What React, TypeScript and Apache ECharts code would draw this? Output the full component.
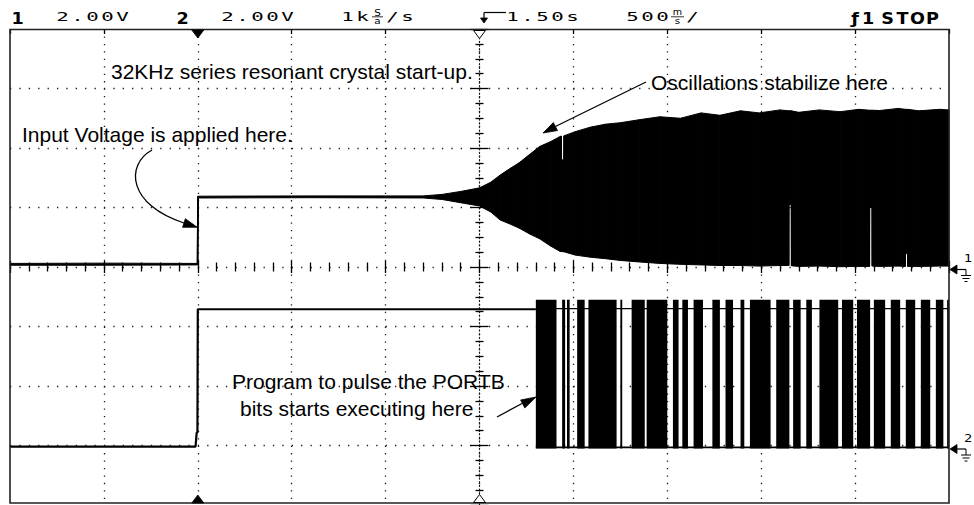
import React, { useEffect, useRef } from "react";
import * as echarts from "echarts";

// Scope settings (500 ms/div, delay 1.50 s, 2.00 V/div both channels)
const secondsPerDiv = 0.5;
const delaySeconds = 1.5;
const voltsPerDiv = 2.0;
const ch1GroundDiv = -0.04;
const ch2GroundDiv = -3.06;

// Channel 1: envelope of the crystal oscillator signal (seconds, volts)
const ch1Time = [-1.0, -0.5, -0.004, 0.0, 0.004, 0.6, 1.2, 1.3, 1.4, 1.5, 1.56, 1.61, 1.66, 1.71, 1.77, 1.82, 1.88, 1.93, 1.936, 1.937, 1.949, 1.95, 2.01, 2.09, 2.17, 2.25, 2.35, 2.46, 2.57, 2.68, 2.78, 2.89, 2.99, 3.1, 3.147, 3.148, 3.16, 3.161, 3.2, 3.31, 3.42, 3.52, 3.577, 3.578, 3.59, 3.591, 3.63, 3.73, 3.767, 3.768, 3.779, 3.78, 3.84, 3.95, 4.0];
const ch1Upper = [0.2, 0.21, 0.2, 2.46, 2.46, 2.47, 2.47, 2.52, 2.62, 2.74, 2.93, 3.17, 3.38, 3.58, 3.88, 4.13, 4.3, 4.47, 4.48, 3.68, 3.68, 4.49, 4.63, 4.78, 4.88, 4.93, 5.03, 5.13, 5.08, 5.26, 5.18, 5.33, 5.26, 5.36, 5.33, 5.33, 5.33, 5.33, 5.28, 5.36, 5.3, 5.38, 5.35, 5.35, 5.35, 5.35, 5.34, 5.41, 5.38, 5.38, 5.38, 5.38, 5.33, 5.38, 5.36];
const ch1Lower = [0.14, 0.14, 0.15, 0.15, 2.4, 2.41, 2.4, 2.35, 2.24, 2.13, 1.93, 1.66, 1.53, 1.39, 1.18, 1.03, 0.78, 0.6, 0.6, 0.6, 0.59, 0.59, 0.48, 0.41, 0.36, 0.3, 0.25, 0.2, 0.17, 0.15, 0.13, 0.13, 0.11, 0.13, 0.13, 2.18, 2.18, 0.12, 0.1, 0.11, 0.09, 0.1, 0.1, 2.08, 2.08, 0.11, 0.1, 0.11, 0.1, 0.53, 0.53, 0.1, 0.1, 0.11, 0.11];

// Channel 2: port pin before the burst (seconds, volts)
const ch2Time = [-1.0, -0.012, -0.006, -0.002, 0.0, 1.8];
const ch2Volts = [0.08, 0.08, 0.55, 0.55, 4.7, 4.7];

// Channel 2: busy (toggling) stretches of the PORTB pulse burst (seconds)
const ch2BurstStart = [1.8, 1.94, 1.966, 2.02, 2.08, 2.25, 2.31, 2.39, 2.53, 2.58, 2.64, 2.74, 2.81, 2.89, 2.94, 3.08, 3.17, 3.24, 3.31, 3.43, 3.51, 3.6, 3.69, 3.77, 3.85, 3.93, 3.99];
const ch2BurstEnd = [1.91, 1.956, 1.98, 2.06, 2.23, 2.26, 2.38, 2.5, 2.56, 2.61, 2.69, 2.78, 2.85, 2.91, 3.05, 3.15, 3.21, 3.27, 3.41, 3.49, 3.58, 3.66, 3.74, 3.82, 3.9, 3.97, 4.0];
const ch2BurstHigh = 5.02;
const ch2BurstLow = 0.02;
const ch2RailTime = [1.8, 4.0];
const ch2RailHigh = 4.72;
const ch2RailLow = 0.06;

// Status line: [text, starting character column, bold]
const statusItems: [string, number, boolean][] = [
  ["1", 0, true],
  ["2.00V", 3, false],
  ["2", 11, true],
  ["2.00V", 14, false],
  ["1k", 22, false],
  ["/s", 25, false],
  ["1.50s", 33, false],
  ["500", 41, false],
  ["/", 45, false],
  ["STOP", 58, true],
];

const tx = (t: number) => (t - delaySeconds) / secondsPerDiv;
const vy = (v: number, g: number) => v / voltsPerDiv + g;

const ANNOT = '21px "Liberation Sans", Arial, Helvetica, sans-serif';
const THIN = '13px "DejaVu Sans Mono"';
const BOLD = 'bold 16px "DejaVu Sans"';
const CELL = 15;
const CELL0 = 10;

function txt(text: string, x: number, y: number, font: string, sx = 1, align = "left") {
  return {
    type: "text",
    x,
    y,
    scaleX: sx,
    z: 100,
    style: {
      text,
      font,
      fill: "#000",
      align,
      verticalAlign: "middle",
      textAlign: align,
      textVerticalAlign: "middle",
    },
  };
}

function cells(text: string, col: number, bold: boolean) {
  return text.split("").map((ch, i) =>
    bold
      ? txt(ch, CELL0 + (col + i) * CELL + CELL / 2, 18.5, BOLD, 1.1, "center")
      : txt(ch, CELL0 + (col + i) * CELL + CELL / 2, 16.8, THIN, 1.6, "center")
  );
}

function ln(x1: number, y1: number, x2: number, y2: number, w = 1.2) {
  return { type: "line", z: 100, shape: { x1, y1, x2, y2 }, style: { stroke: "#000", lineWidth: w } };
}

function poly(points: number[][], fill = "#000", stroke = "#000", w = 0.8) {
  return { type: "polygon", z: 100, shape: { points }, style: { fill, stroke, lineWidth: w } };
}

function arrowHead(tipX: number, tipY: number, dx: number, dy: number, len = 14, half = 4.5) {
  const n = Math.hypot(dx, dy);
  const ux = dx / n, uy = dy / n;
  const bx = tipX - ux * len, by = tipY - uy * len;
  return poly([
    [tipX, tipY],
    [bx - uy * half, by + ux * half],
    [bx + uy * half, by - ux * half],
  ]);
}

function groundMarker(y: number, label: string) {
  return [
    poly([[950, y], [957, y - 4.5], [957, y + 4.5]]),
    ln(956, y, 966, y, 1.2),
    txt(label, 964, y - 11, '11px "DejaVu Sans"', 1.2),
    ln(966, y, 966, y + 6, 1),
    ln(961, y + 6, 971, y + 6, 1),
    ln(962.5, y + 9, 969.5, y + 9, 1),
    ln(964.5, y + 12, 967.5, y + 12, 1),
  ];
}

export default function App() {
  const ref = useRef<HTMLDivElement>(null);

  useEffect(() => {
    if (!ref.current) return;
    const chart = echarts.init(ref.current, undefined, { renderer: "svg" });

    const bandData = [];
    for (let i = 0; i < ch1Time.length - 1; i++) {
      bandData.push([
        tx(ch1Time[i]), vy(ch1Lower[i], ch1GroundDiv), vy(ch1Upper[i], ch1GroundDiv),
        tx(ch1Time[i + 1]), vy(ch1Lower[i + 1], ch1GroundDiv), vy(ch1Upper[i + 1], ch1GroundDiv),
      ]);
    }
    const burstData = ch2BurstStart.map((s, i) => [
      tx(s), tx(ch2BurstEnd[i]), vy(ch2BurstLow, ch2GroundDiv), vy(ch2BurstHigh, ch2GroundDiv),
    ]);
    const ch2Line = ch2Time.map((t, i) => [tx(t), vy(ch2Volts[i], ch2GroundDiv)]);
    const railHi = ch2RailTime.map((t) => [tx(t), vy(ch2RailHigh, ch2GroundDiv)]);
    const railLo = ch2RailTime.map((t) => [tx(t), vy(ch2RailLow, ch2GroundDiv)]);

    const tickStyle = { color: "#000", width: 1.3 };
    const dotColor = "#1a1a1a";

    const xCommon = { type: "value", min: -5, max: 5, interval: 1, axisLabel: { show: false } };
    const yCommon = { type: "value", min: -4, max: 4, interval: 1, axisLabel: { show: false } };

    const status: any[] = [];
    statusItems.forEach(([t, c, b]) => status.push(...cells(t, c, b)));

    const graphics: any[] = [
      // screen frame
      { type: "rect", z: 90, shape: { x: 10, y: 29.5, width: 939, height: 473.5 }, style: { fill: "none", stroke: "#222", lineWidth: 1.6 } },
      // trigger markers
      poly([[191.8, 30], [203.8, 30], [197.8, 38]]),
      poly([[191.8, 503], [203.8, 503], [197.8, 495]]),
      poly([[473.5, 30.5], [485.5, 30.5], [479.5, 38.5]], "#fff", "#000", 1),
      poly([[473.5, 502.5], [485.5, 502.5], [479.5, 494.5]], "#fff", "#000", 1),
      // status line
      ...status,
      txt("S", 377.5, 12.5, '8px "DejaVu Sans"', 1.3, "center"),
      ln(372, 16.8, 383, 16.8, 0.8),
      txt("a", 377.5, 21, '8px "DejaVu Sans"', 1.3, "center"),
      ln(484, 12.5, 506, 12.5, 1.2),
      ln(484, 12.5, 484, 19, 1.2),
      poly([[480.5, 18], [487.5, 18], [484, 23]]),
      txt("m", 677.5, 12.5, '8px "DejaVu Sans"', 1.2, "center"),
      ln(671, 16.8, 684, 16.8, 0.8),
      txt("s", 677.5, 21, '8px "DejaVu Sans"', 1.3, "center"),
      txt("\u0192", 855, 18.5, BOLD, 1.1, "center"),
      txt("1", 868, 18.5, BOLD, 1.1, "center"),
      // annotations
      txt("32KHz series resonant crystal start-up.", 111, 71, ANNOT),
      txt("Oscillations stabilize here", 651, 82, ANNOT),
      txt("Input Voltage is applied here.", 22, 134, ANNOT),
      txt("Program to pulse the PORTB", 232, 381, ANNOT),
      txt("bits starts executing here", 240, 408, ANNOT),
      // arrows
      ln(646, 82, 555.4, 126.5, 1.3),
      arrowHead(543, 133, -0.887, 0.461),
      {
        type: "bezierCurve",
        z: 100,
        shape: { x1: 152, y1: 150, cpx1: 125, cpy1: 165, cpx2: 128, cpy2: 205, x2: 184, y2: 223 },
        style: { stroke: "#000", lineWidth: 1.3, fill: "none" },
      },
      arrowHead(197.3, 227.3, 0.952, 0.306),
      ln(497, 417, 522, 403.5, 1.3),
      arrowHead(536, 397, 0.886, -0.466, 15, 4.5),
      ...groundMarker(269.5, "1"),
      ...groundMarker(449, "2"),
    ];

    chart.setOption({
      animation: false,
      backgroundColor: "#fff",
      grid: { left: 10, right: 25, top: 29, height: 476, containLabel: false },
      xAxis: [
        {
          ...xCommon,
          position: "bottom",
          axisLine: { show: false, onZero: true, onZeroAxisIndex: 0 },
          axisTick: { show: true, length: 6, lineStyle: tickStyle },
          minorTick: { show: true, splitNumber: 5, length: 4.5, lineStyle: tickStyle },
          splitLine: { show: true, showMinLine: false, showMaxLine: false, lineStyle: { color: dotColor, width: 1.3, type: [1.3, 6.14] } },
        },
        {
          ...xCommon,
          position: "top",
          axisLine: { show: false, onZero: true, onZeroAxisIndex: 0 },
          axisTick: { show: true, length: 6, lineStyle: tickStyle },
          minorTick: { show: true, splitNumber: 5, length: 4.5, lineStyle: tickStyle },
          splitLine: { show: false },
        },
        {
          ...xCommon,
          position: "top",
          axisLine: { show: false, onZero: false },
          axisTick: { show: true, inside: true, length: 5, lineStyle: tickStyle },
          splitLine: { show: false },
        },
      ],
      yAxis: [
        {
          ...yCommon,
          position: "left",
          axisLine: { show: true, onZero: true, onZeroAxisIndex: 0, lineStyle: { color: dotColor, width: 1.2, type: [1.2, 2.5] } },
          axisTick: { show: true, length: 9, lineStyle: tickStyle },
          minorTick: { show: true, splitNumber: 4, length: 4, lineStyle: tickStyle },
          splitLine: { show: true, showMinLine: false, showMaxLine: false, lineStyle: { color: dotColor, width: 1.3, type: [1.3, 8.09] } },
        },
        {
          ...yCommon,
          position: "right",
          axisLine: { show: false, onZero: true, onZeroAxisIndex: 0 },
          axisTick: { show: true, length: 9, lineStyle: tickStyle },
          minorTick: { show: true, splitNumber: 4, length: 4, lineStyle: tickStyle },
          splitLine: { show: false },
        },
      ],
      series: [
        {
          name: "Channel 1",
          type: "custom",
          xAxisIndex: 0,
          yAxisIndex: 0,
          encode: { x: [0, 3], y: [1, 2, 4, 5] },
          data: bandData,
          z: 5,
          renderItem: (params: any, api: any) => {
            const a = api.coord([api.value(0), api.value(2)]);
            const b = api.coord([api.value(3), api.value(5)]);
            const c = api.coord([api.value(3), api.value(4)]);
            const d = api.coord([api.value(0), api.value(1)]);
            return {
              type: "polygon",
              shape: { points: [a, b, c, d] },
              style: { fill: "#000", stroke: "#000", lineWidth: 1 },
            };
          },
        },
        {
          name: "Channel 2 burst",
          type: "custom",
          xAxisIndex: 0,
          yAxisIndex: 0,
          encode: { x: [0, 1], y: [2, 3] },
          data: burstData,
          z: 5,
          renderItem: (params: any, api: any) => {
            const p0 = api.coord([api.value(0), api.value(3)]);
            const p1 = api.coord([api.value(1), api.value(2)]);
            return {
              type: "rect",
              shape: { x: p0[0], y: p0[1], width: p1[0] - p0[0], height: p1[1] - p0[1] },
              style: { fill: "#000" },
            };
          },
        },
        {
          name: "Channel 2",
          type: "line",
          data: ch2Line,
          showSymbol: false,
          symbol: "none",
          lineStyle: { color: "#000", width: 2.2 },
          z: 6,
        },
        {
          name: "Channel 2 high rail",
          type: "line",
          data: railHi,
          showSymbol: false,
          symbol: "none",
          lineStyle: { color: "#000", width: 1.4 },
          z: 6,
        },
        {
          name: "Channel 2 low rail",
          type: "line",
          data: railLo,
          showSymbol: false,
          symbol: "none",
          lineStyle: { color: "#000", width: 1.8 },
          z: 6,
        },
      ],
      graphic: graphics,
    });

    return () => chart.dispose();
  }, []);

  return (
    <div
      ref={ref}
      style={{ position: "fixed", left: 0, top: 0, width: 974, height: 505, background: "#fff" }}
    />
  );
}
